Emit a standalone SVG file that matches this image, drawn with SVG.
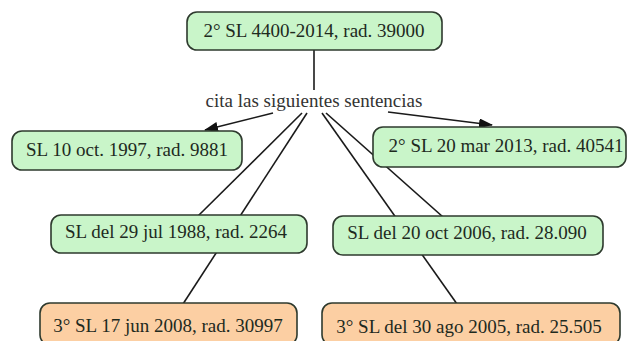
<svg xmlns="http://www.w3.org/2000/svg" width="629" height="341" viewBox="0 0 629 341">
  <style>
    .node rect { stroke: #2e3a2e; stroke-width: 1.6; }
    .green rect { fill: #c9f5c9; }
    .orange rect { fill: #fccfa3; }
    .node text { font-family: "Liberation Serif", "Times New Roman", serif; font-size: 19px; fill: #1e2a1e; text-anchor: middle; }
    .label { font-family: "Liberation Serif", "Times New Roman", serif; font-size: 19px; fill: #333333; text-anchor: middle; }
    .edge { stroke: #1a1a1a; stroke-width: 1.6; fill: none; }
  </style>
  <defs>
    <marker id="arrow" viewBox="0 0 14 10" refX="13" refY="5" markerWidth="14" markerHeight="10" markerUnits="userSpaceOnUse" orient="auto">
      <path d="M0,0 L14,5 L0,10 Z" fill="#111111"/>
    </marker>
  </defs>
  <rect width="629" height="341" fill="#ffffff"/>

  <!-- connectors -->
  <g id="connectors">
    <line class="edge" x1="314" y1="50" x2="314" y2="90"/>
    <line class="edge" x1="273" y1="113" x2="205" y2="130" marker-end="url(#arrow)"/>
    <line class="edge" x1="388" y1="112" x2="492" y2="125" marker-end="url(#arrow)"/>
    <line class="edge" x1="302" y1="113" x2="198" y2="216"/>
    <line class="edge" x1="307" y1="113" x2="183" y2="304"/>
    <line class="edge" x1="322" y1="113" x2="457" y2="304"/>
    <line class="edge" x1="326" y1="113" x2="443" y2="217"/>
  </g>

  <text class="label" x="314" y="107">cita las siguientes sentencias</text>

  <g id="n-top" class="node green">
    <rect x="187" y="12" width="255" height="38" rx="10"/>
    <text x="314" y="37">2° SL 4400-2014, rad. 39000</text>
  </g>
  <g id="n-1997" class="node green">
    <rect x="12" y="131" width="230" height="39" rx="10"/>
    <text x="127" y="156">SL 10 oct. 1997, rad. 9881</text>
  </g>
  <g id="n-2013" class="node green">
    <rect x="373" y="127" width="253" height="40" rx="10"/>
    <text x="506" y="152">2° SL 20 mar 2013, rad. 40541</text>
  </g>
  <g id="n-1988" class="node green">
    <rect x="51" y="215" width="256" height="38" rx="10"/>
    <text x="176" y="238">SL del 29 jul 1988, rad. 2264</text>
  </g>
  <g id="n-2006" class="node green">
    <rect x="333" y="216" width="270" height="39" rx="10"/>
    <text x="467" y="239">SL del 20 oct 2006, rad. 28.090</text>
  </g>
  <g id="n-2008" class="node orange">
    <rect x="40" y="303" width="257" height="42" rx="10"/>
    <text x="168" y="332">3° SL 17 jun 2008, rad. 30997</text>
  </g>
  <g id="n-2005" class="node orange">
    <rect x="322" y="303" width="298" height="42" rx="10"/>
    <text x="469" y="333">3° SL del 30 ago 2005, rad. 25.505</text>
  </g>
</svg>
